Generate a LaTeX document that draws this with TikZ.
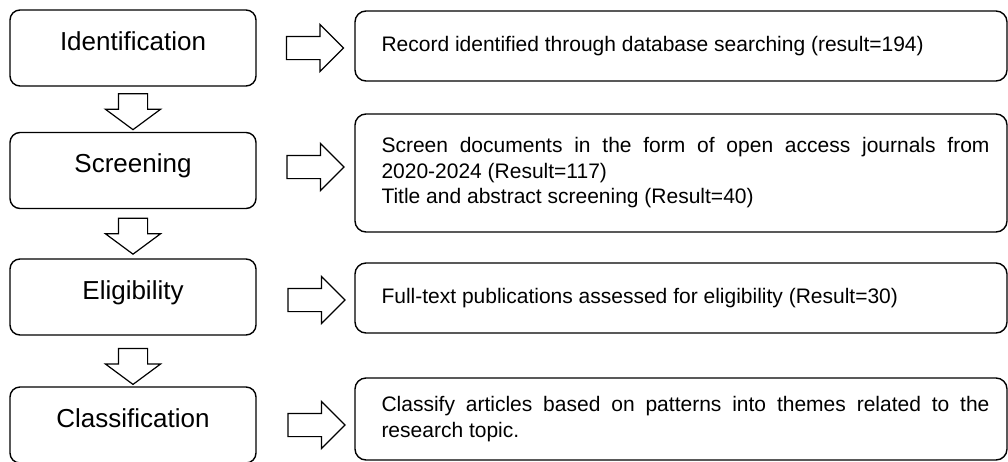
\documentclass[tikz,border=0pt]{standalone}
\usepackage{fontspec}
\setmainfont{Liberation Sans}
\usetikzlibrary{positioning,shapes.arrows,calc}

\tikzset{
  stagebox/.style={draw, line width=1.4pt, rounded corners=10pt, minimum width=246pt, minimum height=76pt,
    font=\fontsize{26}{30}\selectfont, text height=20pt, text depth=15.4pt},
  resultbox/.style={draw, line width=1.4pt, rounded corners=11pt, minimum width=652pt},
  resulttext/.style={font=\fontsize{21}{25.5}\selectfont, inner sep=0pt, align=justify, text width=608pt},
  rightarrow/.style={draw, line width=1.2pt, single arrow, single arrow head extend=12pt,
    minimum height=57pt, inner xsep=0pt, inner ysep=11pt},
  downarrow/.style={draw, line width=1.2pt, single arrow, single arrow head extend=13pt,
    single arrow tip angle=107, minimum height=36pt, inner xsep=0pt, inner ysep=14pt, rotate=-90}
}

\begin{document}
\begin{tikzpicture}[x=1pt,y=-1pt]
\useasboundingbox (0,0) rectangle (1008,461);

% stages
\node[stagebox] (ident) at (133,48) {Identification};
\node[stagebox] (screen) at (133,170.5) {Screening};
\node[stagebox] (elig) at (133,297) {Eligibility};
\node[stagebox] (class) at (133,425) {Classification};

% results
\node[resultbox, minimum height=70pt] (record) at (681,46) {};
\node[resultbox, minimum height=118pt] (screenres) at (681,173) {};
\node[resultbox, minimum height=70pt] (eligres) at (681,298) {};
\node[resultbox, minimum height=82pt] (classres) at (681,419) {};

\node[resulttext, right=27pt of record.west] (recordtxt) {Record identified through database searching (result=194)};
\node[resulttext, right=27pt of screenres.west] (screentxt) {Screen documents in the form of open access journals from\linebreak
  2020-2024 (Result=117)\\Title and abstract screening (Result=40)};
\node[resulttext, right=27pt of eligres.west] (eligtxt) {Full-text publications assessed for eligibility (Result=30)};
\node[resulttext, right=27pt of classres.west] (classtxt) {Classify articles based on patterns into themes related to the\linebreak
  research topic.};

% arrows
\node[rightarrow] (ra1) at ($(ident.east)+(52.5,0)$) {};
\node[rightarrow] (ra2) at ($(screen.east)+(53,-3.5)$) {};
\node[rightarrow] (ra3) at ($(elig.east)+(54,3)$) {};
\node[rightarrow] (ra4) at ($(class.east)+(54,0)$) {};

\node[downarrow, xshift=-3pt] (da1) at ($(ident.south)!0.5!(screen.north)$) {};
\node[downarrow, xshift=-3pt] (da2) at ($(screen.south)!0.5!(elig.north)$) {};
\node[downarrow] (da3) at ($(elig.south)!0.5!(class.north)$) {};
\end{tikzpicture}
\end{document}
